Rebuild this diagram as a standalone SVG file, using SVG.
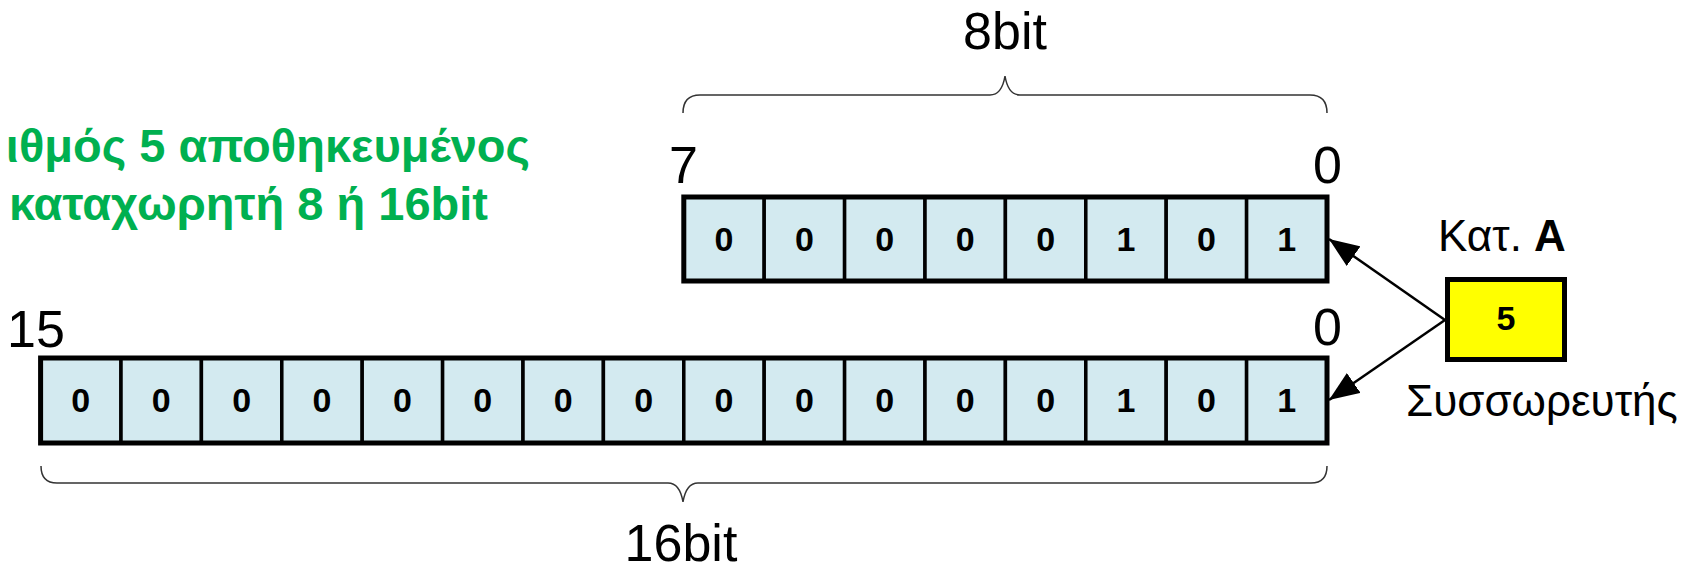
<svg xmlns="http://www.w3.org/2000/svg" width="1691" height="569" viewBox="0 0 1691 569">
<defs>
<style>
.cell{fill:#D3EAF0;stroke:#000;stroke-width:3.5}
.frame{fill:none;stroke:#000;stroke-width:5}
.dig{font-family:"Liberation Sans",Arial,sans-serif;font-weight:bold;font-size:34px;text-anchor:middle;fill:#000}
.big{font-family:"Liberation Sans",Arial,sans-serif;font-size:52px;fill:#000}
.lbl{font-family:"Liberation Sans",Arial,sans-serif;font-size:44px;fill:#000}
.green{font-family:"Liberation Sans",Arial,sans-serif;font-weight:bold;font-size:47px;fill:#00B050;text-anchor:end}
.brace{fill:none;stroke:#333;stroke-width:1.5}
.conn{fill:none;stroke:#000;stroke-width:2.5}
</style>
<marker id="arr" viewBox="0 0 30 24" refX="30" refY="12" markerWidth="30" markerHeight="24" markerUnits="userSpaceOnUse" orient="auto">
<path d="M0,0 L30,12 L0,24 z" fill="#000"/>
</marker>
</defs>
<rect width="1691" height="569" fill="#fff"/>

<g id="caption">
<text class="green" x="530" y="162">ιθμός 5 αποθηκευμένος</text>
<text class="green" x="488" y="220">καταχωρητή 8 ή 16bit</text>
</g>

<g id="reg8">
<text class="big" x="1005" y="49" text-anchor="middle">8bit</text>
<path class="brace" d="M683,113 C683,101 688,95 700,95 L990,95 C998,95 1003,88 1005,76 C1007,88 1012,95 1020,95 L1310,95 C1322,95 1327,101 1327,113"/>
<text class="big" x="669" y="183">7</text>
<text class="big" x="1313" y="183">0</text>
<rect class="cell" x="683.8" y="197" width="80.4" height="84"/>
<rect class="cell" x="764.2" y="197" width="80.4" height="84"/>
<rect class="cell" x="844.6" y="197" width="80.4" height="84"/>
<rect class="cell" x="925" y="197" width="80.4" height="84"/>
<rect class="cell" x="1005.4" y="197" width="80.4" height="84"/>
<rect class="cell" x="1085.8" y="197" width="80.4" height="84"/>
<rect class="cell" x="1166.2" y="197" width="80.4" height="84"/>
<rect class="cell" x="1246.6" y="197" width="80.4" height="84"/>
<rect class="frame" x="683.8" y="197" width="643.2" height="84"/>
<text class="dig" x="724" y="251">0</text>
<text class="dig" x="804.4" y="251">0</text>
<text class="dig" x="884.8" y="251">0</text>
<text class="dig" x="965.2" y="251">0</text>
<text class="dig" x="1045.6" y="251">0</text>
<text class="dig" x="1126" y="251">1</text>
<text class="dig" x="1206.4" y="251">0</text>
<text class="dig" x="1286.8" y="251">1</text>
</g>

<g id="reg16">
<text class="big" x="7" y="347">15</text>
<text class="big" x="1313" y="345">0</text>
<rect class="cell" x="40.6" y="358" width="80.4" height="85"/>
<rect class="cell" x="121" y="358" width="80.4" height="85"/>
<rect class="cell" x="201.4" y="358" width="80.4" height="85"/>
<rect class="cell" x="281.8" y="358" width="80.4" height="85"/>
<rect class="cell" x="362.2" y="358" width="80.4" height="85"/>
<rect class="cell" x="442.6" y="358" width="80.4" height="85"/>
<rect class="cell" x="523" y="358" width="80.4" height="85"/>
<rect class="cell" x="603.4" y="358" width="80.4" height="85"/>
<rect class="cell" x="683.8" y="358" width="80.4" height="85"/>
<rect class="cell" x="764.2" y="358" width="80.4" height="85"/>
<rect class="cell" x="844.6" y="358" width="80.4" height="85"/>
<rect class="cell" x="925" y="358" width="80.4" height="85"/>
<rect class="cell" x="1005.4" y="358" width="80.4" height="85"/>
<rect class="cell" x="1085.8" y="358" width="80.4" height="85"/>
<rect class="cell" x="1166.2" y="358" width="80.4" height="85"/>
<rect class="cell" x="1246.6" y="358" width="80.4" height="85"/>
<rect class="frame" x="40.6" y="358" width="1286.4" height="85"/>
<text class="dig" x="80.8" y="412">0</text>
<text class="dig" x="161.2" y="412">0</text>
<text class="dig" x="241.6" y="412">0</text>
<text class="dig" x="322" y="412">0</text>
<text class="dig" x="402.4" y="412">0</text>
<text class="dig" x="482.8" y="412">0</text>
<text class="dig" x="563.2" y="412">0</text>
<text class="dig" x="643.6" y="412">0</text>
<text class="dig" x="724" y="412">0</text>
<text class="dig" x="804.4" y="412">0</text>
<text class="dig" x="884.8" y="412">0</text>
<text class="dig" x="965.2" y="412">0</text>
<text class="dig" x="1045.6" y="412">0</text>
<text class="dig" x="1126" y="412">1</text>
<text class="dig" x="1206.4" y="412">0</text>
<text class="dig" x="1286.8" y="412">1</text>
<path class="brace" d="M41,466 C41,477 46,483 57,483 L668,483 C676,483 681,490 683,502 C685,490 690,483 698,483 L1311,483 C1322,483 1327,477 1327,466"/>
<text class="big" x="681" y="561" text-anchor="middle">16bit</text>
</g>

<g id="accA">
<text class="lbl" x="1438" y="251" font-size="45">Κατ. <tspan font-weight="bold">A</tspan></text>
<rect x="1447.5" y="279.5" width="117" height="80" fill="#FFFF00" stroke="#000" stroke-width="5"/>
<text class="dig" x="1506" y="330">5</text>
<text class="lbl" x="1406" y="416" font-size="43.5">Συσσωρευτής</text>
</g>

<g id="connectors">
<line class="conn" x1="1445" y1="320" x2="1329" y2="239" marker-end="url(#arr)"/>
<line class="conn" x1="1445" y1="320" x2="1329" y2="400" marker-end="url(#arr)"/>
</g>
</svg>
